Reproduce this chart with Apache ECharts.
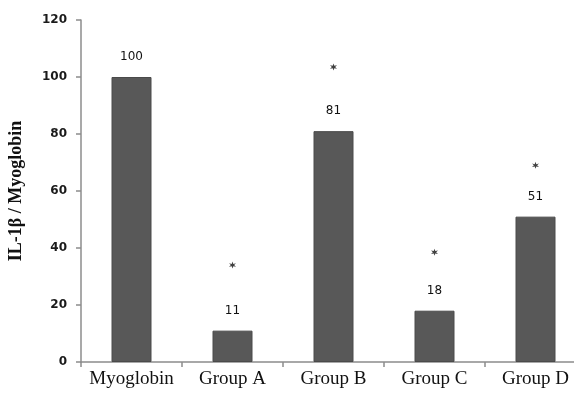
<!DOCTYPE html>
<html>
<head>
<meta charset="utf-8">
<script src="https://cdn.jsdelivr.net/npm/echarts@6/dist/echarts.min.js"></script>
<style>html,body{margin:0;padding:0;background:#fff;}#c{width:574px;height:396px;}</style>
</head>
<body>
<div id="c"></div>
<script>
const categories = ['Myoglobin', 'Group A', 'Group B', 'Group C', 'Group D'];
const values = [100, 11, 81, 18, 51];
const starValues = [null, 34, 103.5, 38.5, 69];
const yTicks = [0, 20, 40, 60, 80, 100, 120];
const yTitle = 'IL-1β / Myoglobin';

const starPath = 'path://M100 0 L120 65.4 L186.6 50 L140 100 L186.6 150 L120 134.6 L100 200 L80 134.6 L13.4 150 L60 100 L13.4 50 L80 65.4 Z';

const chart = echarts.init(document.getElementById('c'));
chart.setOption({
  animation: false,
  backgroundColor: '#fff',
  grid: { left: 81, top: 20, bottom: 34, width: 505, containLabel: false, outerBoundsMode: 'none' },
  xAxis: {
    type: 'category',
    data: categories,
    axisLine: { lineStyle: { color: '#8c8c8c', width: 1.5 } },
    axisTick: { show: true, length: 5, lineStyle: { color: '#8c8c8c', width: 1.5 } },
    axisLabel: { interval: 0, color: '#111', fontFamily: 'Liberation Serif', fontSize: 19, margin: 8 }
  },
  yAxis: {
    type: 'value',
    min: yTicks[0],
    max: yTicks[yTicks.length - 1],
    interval: 20,
    name: yTitle,
    nameLocation: 'middle',
    nameGap: 56,
    nameTextStyle: { fontFamily: 'Liberation Serif', fontWeight: 'bold', fontSize: 18, color: '#111' },
    axisLine: { show: true, lineStyle: { color: '#8c8c8c', width: 1.5 } },
    axisTick: { show: true, length: 5, lineStyle: { color: '#8c8c8c', width: 1.5 } },
    splitLine: { show: false },
    axisLabel: { color: '#1a1a1a', fontFamily: 'DejaVu Sans', fontWeight: 'bold', fontSize: 12, margin: 14 }
  },
  series: [
    {
      type: 'bar',
      data: values,
      barWidth: 40,
      itemStyle: { color: '#585858', borderColor: '#4a4a4a', borderWidth: 1 },
      label: { show: true, position: 'top', distance: 14, color: '#111', fontFamily: 'DejaVu Sans', fontSize: 12 }
    },
    {
      type: 'scatter',
      data: starValues,
      symbol: starPath,
      symbolSize: 7,
      itemStyle: { color: '#111' },
      z: 5
    }
  ]
});
</script>
</body>
</html>
